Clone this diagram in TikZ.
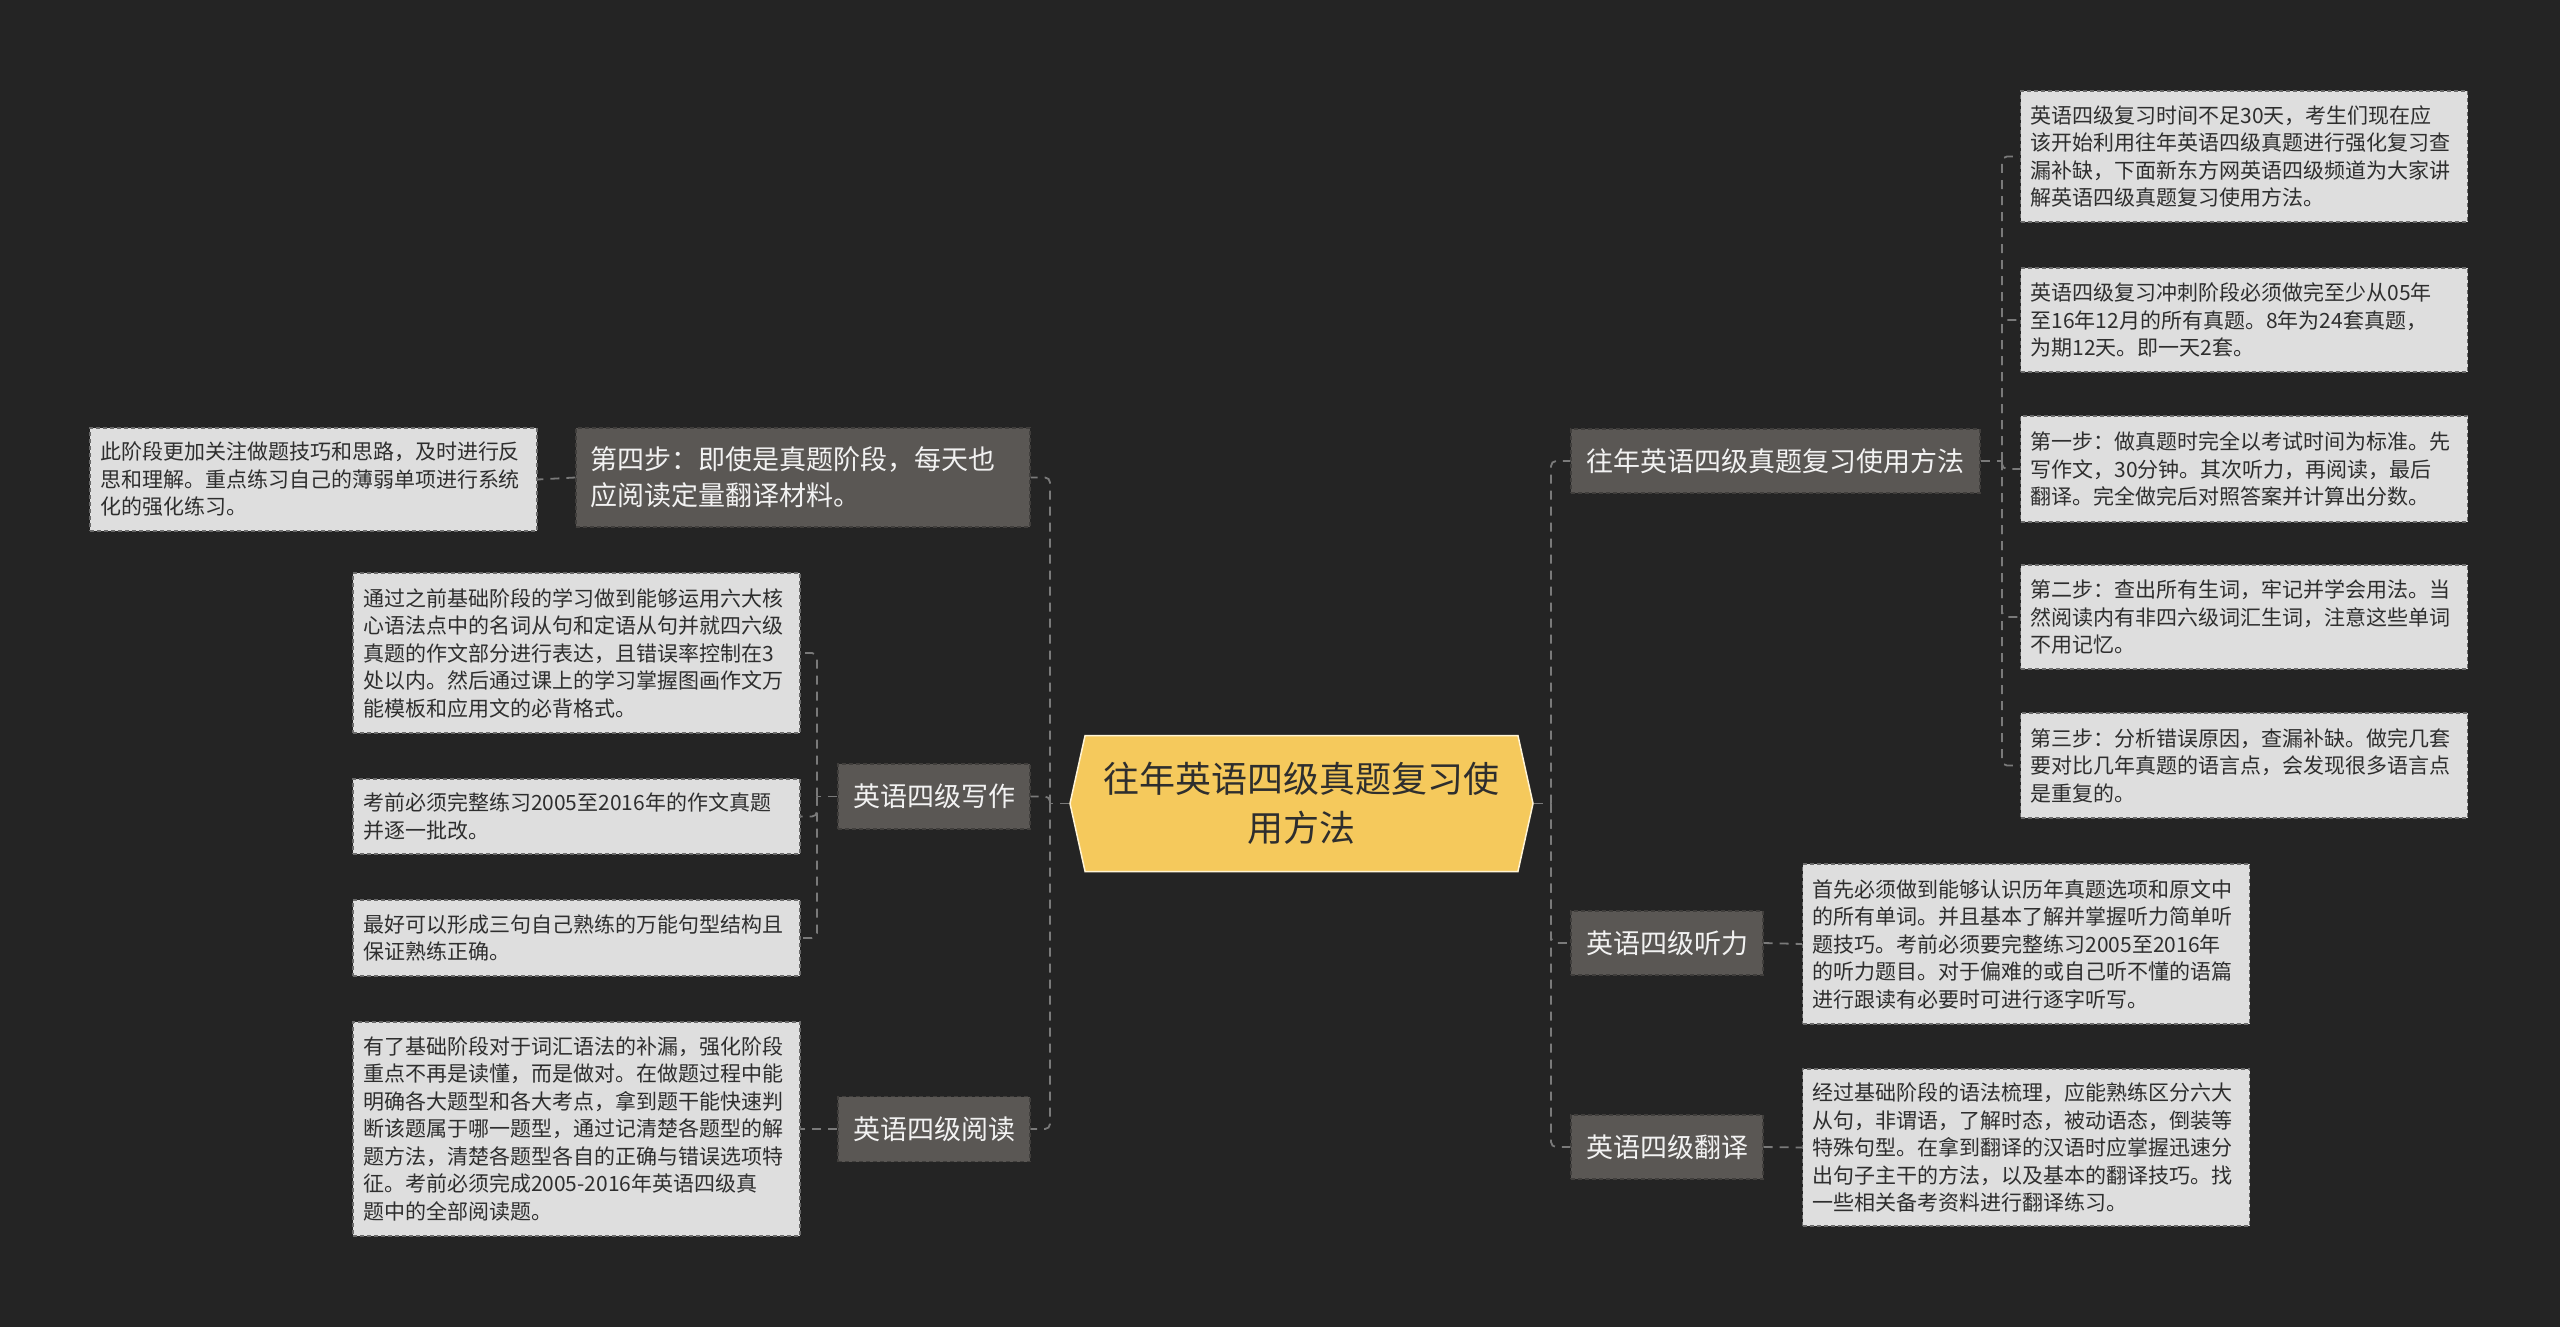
\documentclass[tikz,border=0pt]{standalone}
\usepackage{fontspec}
\setmainfont{Noto Sans CJK SC}
\usetikzlibrary{shapes.symbols}
\definecolor{bgc}{HTML}{242424}
\definecolor{midfill}{HTML}{5A5754}
\definecolor{midline}{HTML}{403E3C}
\definecolor{leaffill}{HTML}{DEDEDE}
\definecolor{leafline}{HTML}{6A6A6A}
\definecolor{conncol}{HTML}{7A7A7A}
\definecolor{hexfill}{HTML}{F5C95C}
\definecolor{hexline}{HTML}{FFF4D6}
\definecolor{midtext}{HTML}{F2F2F2}
\definecolor{leaftext}{HTML}{2E2E2E}
\begin{document}
\begin{tikzpicture}[x=1pt,y=-1pt,
  mid/.style={draw=midline, dash pattern=on 4pt off 3pt, line width=1.2pt, fill=midfill, text=midtext, font=\fontsize{27}{36}\selectfont, align=left, inner xsep=10pt, inner ysep=0pt, anchor=center},
  leaf/.style={draw=leafline, dash pattern=on 4pt off 3pt, line width=1.2pt, fill=leaffill, text=leaftext, font=\fontsize{21}{27.5}\selectfont, align=left, text width=427pt, inner xsep=10pt, inner ysep=0pt, anchor=center},
  conn/.style={draw=conncol, line width=1.8pt, dash pattern=on 9pt off 7pt, rounded corners=5pt},
  rootnode/.style={shape=signal, signal to=west and east, signal pointer angle=155, minimum width=463pt, minimum height=136pt, fill=hexfill, draw=hexline, line width=1.5pt, text=leaftext, font=\fontsize{36}{49}\selectfont, align=center, inner sep=0pt},
]
\useasboundingbox (0,0) rectangle (2560,1327);
\fill[bgc] (0,0) rectangle (2560,1327);

% root
\node[rootnode] (root) at (1301.5,803.5) {往年英语四级真题复习使\\用方法};

% left side
\node[mid, text width=426pt, inner xsep=14pt, minimum height=99pt] (n4) at (803,477.5) {第四步：即使是真题阶段，每天也\\应阅读定量翻译材料。};
\node[leaf, minimum height=103pt] (n4l) at (313.5,479.5) {此阶段更加关注做题技巧和思路，及时进行反\\思和理解。重点练习自己的薄弱单项进行系统\\化的强化练习。};

\node[mid, minimum width=192pt, minimum height=65pt] (write) at (934,796.5) {英语四级写作};
\node[leaf, minimum height=160pt] (wa) at (576.5,653) {通过之前基础阶段的学习做到能够运用六大核\\心语法点中的名词从句和定语从句并就四六级\\真题的作文部分进行表达，且错误率控制在3\\处以内。然后通过课上的学习掌握图画作文万\\能模板和应用文的必背格式。};
\node[leaf, minimum height=75pt] (wb) at (576.5,816.5) {考前必须完整练习2005至2016年的作文真题\\并逐一批改。};
\node[leaf, minimum height=76pt] (wc) at (576.5,938) {最好可以形成三句自己熟练的万能句型结构且\\保证熟练正确。};

\node[mid, minimum width=192pt, minimum height=65pt] (read) at (934,1129) {英语四级阅读};
\node[leaf, minimum height=214pt] (readl) at (576.5,1129) {有了基础阶段对于词汇语法的补漏，强化阶段\\重点不再是读懂，而是做对。在做题过程中能\\明确各大题型和各大考点，拿到题干能快速判\\断该题属于哪一题型，通过记清楚各题型的解\\题方法，清楚各题型各自的正确与错误选项特\\征。考前必须完成2005-2016年英语四级真\\题中的全部阅读题。};

% right side
\node[mid, minimum width=409pt, minimum height=64pt] (r1) at (1775.5,461) {往年英语四级真题复习使用方法};
\node[leaf, minimum height=131pt] (ra) at (2244,156.5) {英语四级复习时间不足30天，考生们现在应\\该开始利用往年英语四级真题进行强化复习查\\漏补缺，下面新东方网英语四级频道为大家讲\\解英语四级真题复习使用方法。};
\node[leaf, minimum height=104pt] (rb) at (2244,320) {英语四级复习冲刺阶段必须做完至少从05年\\至16年12月的所有真题。8年为24套真题，\\为期12天。即一天2套。};
\node[leaf, minimum height=106pt] (rc) at (2244,469) {第一步：做真题时完全以考试时间为标准。先\\写作文，30分钟。其次听力，再阅读，最后\\翻译。完全做完后对照答案并计算出分数。};
\node[leaf, minimum height=104pt] (rd) at (2244,617) {第二步：查出所有生词，牢记并学会用法。当\\然阅读内有非四六级词汇生词，注意这些单词\\不用记忆。};
\node[leaf, minimum height=105pt] (re) at (2244,765.5) {第三步：分析错误原因，查漏补缺。做完几套\\要对比几年真题的语言点，会发现很多语言点\\是重复的。};

\node[mid, minimum width=192pt, minimum height=64pt] (r2) at (1667,943) {英语四级听力};
\node[leaf, minimum height=160pt] (r2l) at (2026,944) {首先必须做到能够认识历年真题选项和原文中\\的所有单词。并且基本了解并掌握听力简单听\\题技巧。考前必须要完整练习2005至2016年\\的听力题目。对于偏难的或自己听不懂的语篇\\进行跟读有必要时可进行逐字听写。};

\node[mid, minimum width=192pt, minimum height=64pt] (r3) at (1667,1147) {英语四级翻译};
\node[leaf, minimum height=157pt] (r3l) at (2026,1147.5) {经过基础阶段的语法梳理，应能熟练区分六大\\从句，非谓语，了解时态，被动语态，倒装等\\特殊句型。在拿到翻译的汉语时应掌握迅速分\\出句子主干的方法，以及基本的翻译技巧。找\\一些相关备考资料进行翻译练习。};

% junction points
\coordinate (lt) at (1050,803.5);
\coordinate (rt) at (1551,803.5);
\coordinate (wj) at (817,796.5);
\coordinate (rj) at (2002,461);

% connectors
\draw[conn] (root.west) -- (lt);
\draw[conn] (lt) |- (n4.east);
\draw[conn] (lt) |- (write.east);
\draw[conn] (lt) |- (read.east);
\draw[conn] (n4.west) -- (n4l.east);
\draw[conn] (write.west) -- (wj);
\draw[conn] (wj) |- (wa.east);
\draw[conn] (wj) |- (wb.east);
\draw[conn] (wj) |- (wc.east);
\draw[conn] (read.west) -- (readl.east);

\draw[conn] (root.east) -- (rt);
\draw[conn] (rt) |- (r1.west);
\draw[conn] (rt) |- (r2.west);
\draw[conn] (rt) |- (r3.west);
\draw[conn] (r1.east) -- (rj);
\draw[conn] (rj) |- (ra.west);
\draw[conn] (rj) |- (rb.west);
\draw[conn] (rj) |- (rc.west);
\draw[conn] (rj) |- (rd.west);
\draw[conn] (rj) |- (re.west);
\draw[conn] (r2.east) -- (r2l.west);
\draw[conn] (r3.east) -- (r3l.west);
\end{tikzpicture}
\end{document}
